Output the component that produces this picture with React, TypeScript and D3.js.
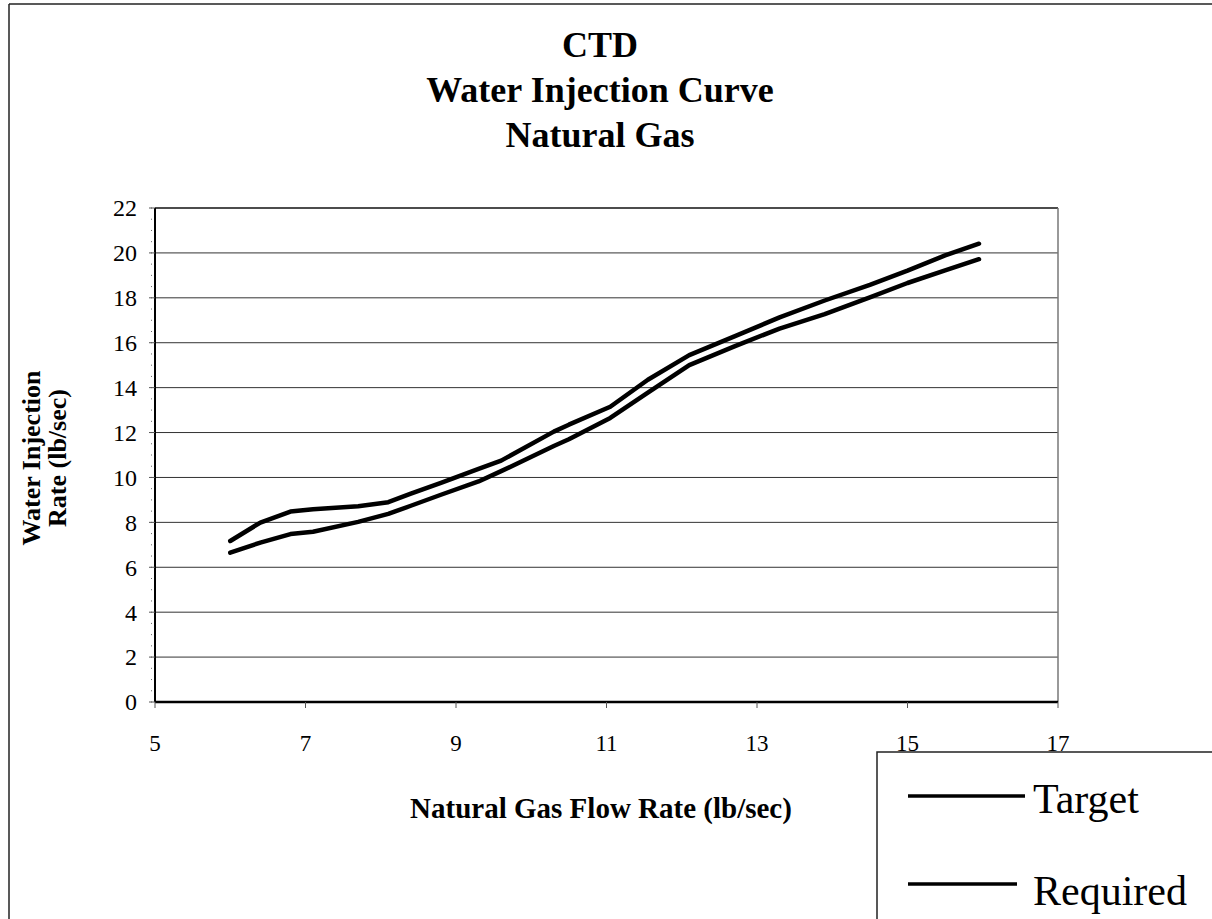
import React from "react";
import * as d3 from "d3";

// Values
const flowRate = [6.0, 6.4, 6.8, 7.1, 7.7, 8.1, 8.4, 8.8, 9.3, 9.6, 10.3, 10.5, 11.05, 11.55, 12.1, 12.7, 13.3, 13.9, 14.5, 15.0, 15.5, 15.95];
const target = [7.17, 7.99, 8.48, 8.58, 8.72, 8.9, 9.28, 9.76, 10.38, 10.75, 12.04, 12.35, 13.15, 14.35, 15.45, 16.28, 17.13, 17.88, 18.58, 19.21, 19.89, 20.41];
const required = [6.65, 7.1, 7.48, 7.58, 8.02, 8.38, 8.74, 9.23, 9.82, 10.28, 11.4, 11.7, 12.65, 13.78, 15.0, 15.84, 16.63, 17.27, 18.02, 18.66, 19.22, 19.72];
const xTicks = [5, 7, 9, 11, 13, 15, 17];
const yTicks = [0, 2, 4, 6, 8, 10, 12, 14, 16, 18, 20, 22];
const titleLines = ["CTD", "Water Injection Curve", "Natural Gas"];
const seriesNames = ["Target", "Required"];

const W = 1212;
const H = 919;
const font = "'Liberation Serif', 'Times New Roman', serif";

export default function App() {
  const x = d3.scaleLinear().domain([5, 17]).range([155, 1058]);
  const y = d3.scaleLinear().domain([0, 22]).range([702, 208]);

  const line = d3
    .line<number>()
    .x((_, i) => x(flowRate[i]))
    .y((d) => y(d))
    .curve(d3.curveLinear);

  const minor = d3.range(0, 22.01, 0.5);

  return (
    <svg
      width={W}
      height={H}
      style={{ position: "absolute", left: 0, top: 0, background: "#fff" }}
      fontFamily={font}
    >
      {/* outer frame */}
      <line x1={9} y1={4} x2={W} y2={4} stroke="#222" strokeWidth={1.5} />
      <line x1={9} y1={4} x2={9} y2={H} stroke="#222" strokeWidth={1.5} />

      {/* title */}
      {titleLines.map((t, i) => (
        <text key={t} x={600} y={57 + i * 45} textAnchor="middle" fontSize={36} fontWeight="bold">
          {t}
        </text>
      ))}

      {/* gridlines */}
      {yTicks.slice(1, -1).map((v) => (
        <line key={v} x1={x(5)} x2={x(17)} y1={y(v)} y2={y(v)} stroke="#333" strokeWidth={1} />
      ))}

      {/* plot frame */}
      <line x1={x(5)} x2={x(17)} y1={y(22)} y2={y(22)} stroke="#111" strokeWidth={1.5} />
      <line x1={x(17)} x2={x(17)} y1={y(22)} y2={y(0)} stroke="#777" strokeWidth={1.5} />
      <line x1={x(5)} x2={x(5)} y1={y(22)} y2={y(0)} stroke="#000" strokeWidth={2} />
      <line x1={x(5)} x2={x(17)} y1={y(0)} y2={y(0)} stroke="#000" strokeWidth={2.5} />

      {/* y ticks */}
      {minor.map((v) => (
        <line key={v} x1={x(5) - 4} x2={x(5) - 3} y1={y(v)} y2={y(v)} stroke="#666" strokeWidth={1} />
      ))}
      {yTicks.map((v) => (
        <g key={v}>
          <line x1={x(5) - 6} x2={x(5)} y1={y(v)} y2={y(v)} stroke="#555" strokeWidth={1} />
          <text x={137} y={y(v)} dy="0.35em" textAnchor="end" fontSize={24}>
            {v}
          </text>
        </g>
      ))}

      {/* x ticks */}
      {xTicks.map((v) => (
        <g key={v}>
          <line x1={x(v)} x2={x(v)} y1={y(0)} y2={y(0) + 6} stroke="#555" strokeWidth={1} />
          <text x={x(v)} y={751} textAnchor="middle" fontSize={23}>
            {v}
          </text>
        </g>
      ))}

      {/* axis titles */}
      <text x={601} y={818} textAnchor="middle" fontSize={29} fontWeight="bold">
        Natural Gas Flow Rate (lb/sec)
      </text>
      <g transform="translate(31,458) rotate(-90)">
        <text x={0} y={0} dy="0.35em" textAnchor="middle" fontSize={26} fontWeight="bold">
          Water Injection
        </text>
        <text x={0} y={26} dy="0.35em" textAnchor="middle" fontSize={26} fontWeight="bold">
          Rate (lb/sec)
        </text>
      </g>

      {/* series */}
      {[target, required].map((s, i) => (
        <path
          key={seriesNames[i]}
          d={line(s) ?? ""}
          fill="none"
          stroke="#000"
          strokeWidth={4.5}
          strokeLinejoin="round"
          strokeLinecap="round"
        />
      ))}

      {/* legend */}
      <rect x={877} y={752} width={W - 877 + 2} height={H - 752 + 2} fill="#fff" stroke="#222" strokeWidth={1.5} />
      {seriesNames.map((n, i) => (
        <g key={n}>
          <line x1={908} x2={i === 0 ? 1025 : 1017} y1={796 + i * 88} y2={796 + i * 88} stroke="#000" strokeWidth={3.5} />
          <text x={1033} y={813 + i * 92} fontSize={42}>
            {n}
          </text>
        </g>
      ))}
    </svg>
  );
}
